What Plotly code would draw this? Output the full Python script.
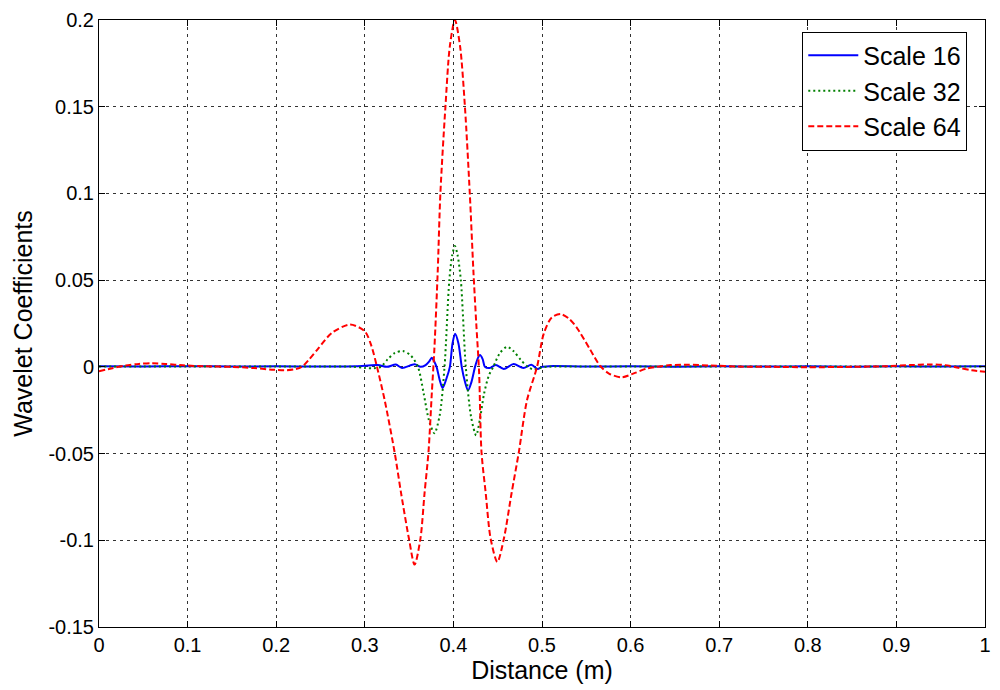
import plotly.graph_objects as go

# Wavelet coefficient profiles along the specimen, three analysis scales

# Scale 16
dist_s16 = [0.000, 0.050, 0.100, 0.150, 0.200, 0.250, 0.290, 0.3146, 0.325, 0.3351, 0.342,
            0.3562, 0.363, 0.3686, 0.3725, 0.3756, 0.3785, 0.381, 0.3845, 0.3878, 0.392,
            0.396, 0.399, 0.4019, 0.4057, 0.4094, 0.413, 0.4165, 0.4205, 0.4244, 0.4272,
            0.430, 0.433, 0.4356, 0.441, 0.448, 0.4568, 0.468, 0.479, 0.488, 0.495, 0.500,
            0.508, 0.550, 0.600, 0.650, 0.700, 0.750, 0.800, 0.850, 0.900, 0.950, 1.000]
coef_s16 = [0.0003, 0.0002, 0.0004, 0.0002, 0.0003, 0.0002, 0.0004, 0.0010, 0.0000, 0.0013, -0.0006,
            0.0015, 0.0000, 0.0010, 0.0030, 0.0052, 0.0030, 0.0000, -0.0075, -0.0122, -0.0070,
            0.0000, 0.0135, 0.0191, 0.0135, 0.0000, -0.0085, -0.0136, -0.0085, 0.0000, 0.0045,
            0.0068, 0.0045, 0.0000, -0.0007, 0.0010, -0.0012, 0.0016, -0.0007, 0.0012, -0.0012, 0.0000,
            0.0004, 0.0002, 0.0003, 0.0001, 0.0003, 0.0002, 0.0003, 0.0001, 0.0003, 0.0002, 0.0003]

# Scale 32
dist_s32 = [0.000, 0.050, 0.100, 0.150, 0.200, 0.250, 0.285, 0.300, 0.310, 0.318, 0.326,
            0.334, 0.343, 0.352, 0.360, 0.3665, 0.3725, 0.3786, 0.3845, 0.3900, 0.3954,
            0.3987, 0.4017, 0.4047, 0.4084, 0.4140, 0.4200, 0.4257, 0.4300, 0.4346, 0.4400,
            0.4450, 0.4525, 0.4607, 0.4680, 0.4760, 0.4840, 0.4900, 0.4970, 0.505, 0.550,
            0.600, 0.650, 0.700, 0.750, 0.800, 0.850, 0.900, 0.950, 1.000]
coef_s32 = [0.0002, 0.0002, 0.0002, 0.0002, 0.0002, 0.0002, 0.0001, -0.0006, -0.0008, 0.0000, 0.0045,
            0.0080, 0.0091, 0.0065, 0.0000, -0.0155, -0.0310, -0.0383, -0.0280, 0.0000, 0.0500,
            0.0645, 0.0697, 0.0645, 0.0500, 0.0000, -0.0290, -0.0395, -0.0300, -0.0155, -0.0050,
            0.0000, 0.0080, 0.0116, 0.0090, 0.0040, 0.0000, -0.0015, -0.0008, 0.0000, 0.0002,
            0.0002, 0.0002, 0.0002, 0.0002, 0.0002, 0.0002, 0.0002, 0.0002, 0.0002]

# Scale 64
dist_s64 = [0.000, 0.015, 0.030, 0.045, 0.060, 0.075, 0.095, 0.120, 0.150, 0.175, 0.195,
            0.212, 0.222, 0.229, 0.2375, 0.2478, 0.2627, 0.2833, 0.300, 0.3075, 0.3135,
            0.3225, 0.3337, 0.341, 0.3498, 0.3562, 0.3628, 0.3674, 0.3719, 0.3756, 0.3785,
            0.3823, 0.3853, 0.391, 0.396, 0.4017, 0.4075, 0.413, 0.4185, 0.4226, 0.4258,
            0.4290, 0.4317, 0.4365, 0.4420, 0.4496, 0.4570, 0.4656, 0.4739, 0.4830, 0.4944,
            0.5019, 0.5110, 0.5210, 0.5300, 0.5390, 0.5540, 0.5654, 0.5760, 0.5900, 0.6050,
            0.6180, 0.6290, 0.6450, 0.6650, 0.6900, 0.7200, 0.7600, 0.8000, 0.8500, 0.8900,
            0.9150, 0.9370, 0.9550, 0.9700, 0.9850, 1.0000]
coef_s64 = [-0.0025, -0.0008, 0.0008, 0.0017, 0.0021, 0.0017, 0.0009, 0.0003, 0.0000, -0.0007, -0.0016,
            -0.0019, -0.0013, 0.0000, 0.0045, 0.0108, 0.0195, 0.0244, 0.0205, 0.0120, 0.0005,
            -0.0194, -0.0494, -0.0730, -0.0990, -0.1140, -0.0990, -0.0730, -0.0490, -0.0155, 0.0100,
            0.0550, 0.1000, 0.1500, 0.1850, 0.2000, 0.1850, 0.1500, 0.1000, 0.0550, 0.0250,
            -0.0030, -0.0490, -0.0730, -0.0990, -0.1125, -0.0990, -0.0730, -0.0490, -0.0194, 0.0000,
            0.0190, 0.0285, 0.0304, 0.0280, 0.0228, 0.0103, 0.0007, -0.0040, -0.0060, -0.0035,
            -0.0010, 0.0000, 0.0010, 0.0012, 0.0008, 0.0002, 0.0000, -0.0002, 0.0000, 0.0004,
            0.0010, 0.0014, 0.0010, -0.0005, -0.0020, -0.0028]

x_ticks = [0, 0.1, 0.2, 0.3, 0.4, 0.5, 0.6, 0.7, 0.8, 0.9, 1.0]
x_tick_labels = ["0", "0.1", "0.2", "0.3", "0.4", "0.5", "0.6", "0.7", "0.8", "0.9", "1"]
y_ticks = [-0.15, -0.1, -0.05, 0, 0.05, 0.1, 0.15, 0.2]
y_tick_labels = ["-0.15", "-0.1", "-0.05", "0", "0.05", "0.1", "0.15", "0.2"]

FONT = "Liberation Sans, Arial, sans-serif"

fig = go.Figure()
fig.add_trace(go.Scatter(x=dist_s16, y=coef_s16, mode="lines", name="Scale 16",
                         line=dict(color="#0000ff", width=2, shape="spline", smoothing=0.8)))
fig.add_trace(go.Scatter(x=dist_s32, y=coef_s32, mode="lines", name="Scale 32",
                         line=dict(color="#008000", width=2, dash="2px,3px",
                                   shape="spline", smoothing=0.8)))
fig.add_trace(go.Scatter(x=dist_s64, y=coef_s64, mode="lines", name="Scale 64",
                         line=dict(color="#ff0000", width=2, dash="6px,3px",
                                   shape="spline", smoothing=0.8)))

axis_common = dict(
    showline=True, linecolor="black", linewidth=1, mirror="ticks",
    ticks="inside", ticklen=6, tickcolor="black",
    showgrid=True, gridcolor="#333333", gridwidth=1, griddash="3px,4px",
    zeroline=False, tickfont=dict(family=FONT, size=20, color="black"),
)

fig.update_xaxes(range=[0, 1], tickmode="array", tickvals=x_ticks, ticktext=x_tick_labels,
                 title=dict(text="Distance (m)", font=dict(family=FONT, size=25, color="black"),
                            standoff=2),
                 **axis_common)
fig.update_yaxes(range=[-0.15, 0.2], tickmode="array", tickvals=y_ticks, ticktext=y_tick_labels,
                 title=dict(text="Wavelet Coefficients", font=dict(family=FONT, size=25, color="black"),
                            standoff=8),
                 **axis_common)

fig.update_layout(
    width=1000, height=690,
    margin=dict(l=99, r=9, t=20, b=63),
    paper_bgcolor="white", plot_bgcolor="white",
    font=dict(family=FONT, color="black"),
    legend=dict(x=0.98, y=0.981, xanchor="right", yanchor="top",
                bgcolor="white", bordercolor="black", borderwidth=1,
                font=dict(family=FONT, size=25, color="black"),
                itemwidth=50, tracegroupgap=0),
    showlegend=True,
)

fig.write_html("out.html")
